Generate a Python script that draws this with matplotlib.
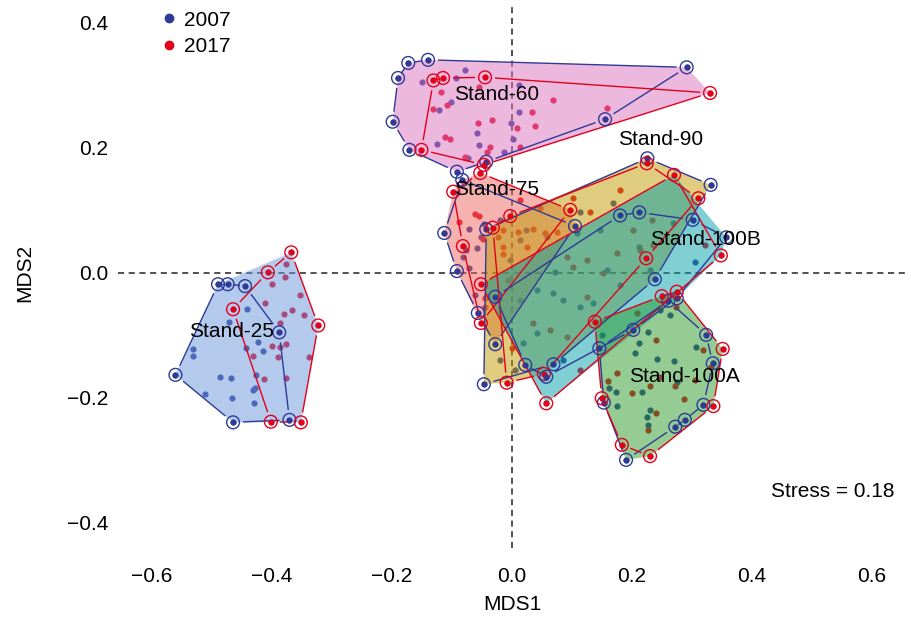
import numpy as np
import matplotlib
matplotlib.use("Agg")
import matplotlib.pyplot as plt
from matplotlib.lines import Line2D

plt.rcParams["font.family"] = ["Liberation Sans", "DejaVu Sans"]

# NMDS site scores (MDS1, MDS2) per stand and survey year
s25_2007 = [(-0.490, -0.018), (-0.474, -0.018), (-0.445, -0.021), (-0.388, -0.095), (-0.371, -0.235),
            (-0.465, -0.239), (-0.561, -0.163), (-0.441, -0.058), (-0.472, -0.078), (-0.532, -0.121),
            (-0.532, -0.133), (-0.443, -0.120), (-0.423, -0.110), (-0.415, -0.125), (-0.487, -0.166),
            (-0.469, -0.168), (-0.426, -0.164), (-0.432, -0.188), (-0.428, -0.184), (-0.467, -0.200),
            (-0.430, -0.208), (-0.512, -0.194)]
s25_2017 = [(-0.368, 0.033), (-0.407, 0.001), (-0.465, -0.058), (-0.323, -0.084), (-0.352, -0.239),
            (-0.402, -0.238), (-0.377, 0.014), (-0.400, -0.018), (-0.378, -0.007), (-0.412, -0.048),
            (-0.380, -0.066), (-0.366, -0.060), (-0.346, -0.067), (-0.353, -0.035), (-0.386, -0.080),
            (-0.400, -0.117), (-0.386, -0.118), (-0.377, -0.114), (-0.390, -0.135), (-0.432, -0.133),
            (-0.338, -0.134), (-0.413, -0.170), (-0.376, -0.168)]

s60_2007 = [(-0.173, 0.336), (-0.140, 0.341), (-0.190, 0.312), (-0.199, 0.242), (-0.171, 0.197),
            (-0.092, 0.162), (-0.043, 0.178), (0.155, 0.246), (0.291, 0.329), (-0.078, 0.324),
            (-0.093, 0.312), (-0.150, 0.306), (-0.101, 0.274), (-0.121, 0.261), (0.011, 0.301),
            (0.011, 0.257), (-0.001, 0.240), (-0.059, 0.224), (0.001, 0.214), (-0.055, 0.204),
            (-0.125, 0.206), (-0.013, 0.193), (-0.073, 0.184)]
s60_2017 = [(-0.131, 0.308), (-0.115, 0.312), (-0.045, 0.313), (0.330, 0.288), (-0.151, 0.197),
            (-0.047, 0.173), (-0.118, 0.290), (-0.131, 0.262), (-0.109, 0.269), (-0.055, 0.297),
            (0.068, 0.276), (0.033, 0.257), (-0.034, 0.244), (-0.056, 0.240), (0.008, 0.232),
            (0.038, 0.235), (0.158, 0.264), (-0.112, 0.217), (-0.103, 0.214), (-0.037, 0.202),
            (-0.041, 0.194), (0.013, 0.202), (-0.078, 0.186)]

s75_2007 = [(-0.083, 0.149), (-0.113, 0.064), (-0.092, 0.003), (-0.057, -0.064), (-0.028, -0.114),
            (0.105, 0.075), (-0.071, 0.070), (-0.046, 0.078), (-0.052, 0.057), (-0.077, 0.037),
            (-0.059, 0.040), (-0.071, 0.008), (-0.081, 0.025), (-0.020, 0.085), (-0.062, -0.035)]
s75_2017 = [(-0.053, 0.160), (0.097, 0.101), (-0.052, -0.080), (-0.082, 0.043),
            (-0.098, 0.130), (-0.088, 0.082), (-0.062, 0.094), (-0.055, 0.091), (-0.049, 0.054),
            (-0.015, 0.069), (-0.045, -0.040), (-0.045, -0.055), (0.013, 0.117), (0.047, 0.104)]

s90_2007 = [(0.2255, 0.1835), (0.331, 0.141), (0.238, -0.010), (0.069, -0.146), (-0.047, -0.178),
            (-0.043, 0.070), (0.023, 0.069), (0.013, 0.053), (-0.003, 0.021), (0.113, 0.098),
            (0.169, 0.1115), (0.147, 0.069), (0.108, 0.0635), (0.058, 0.058), (0.072, 0.002),
            (0.013, -0.043), (0.041, -0.027), (-0.020, -0.139), (0.005, -0.155), (0.212, 0.042)]
s90_2017 = [(0.2245, 0.1755), (0.3105, 0.1195), (0.2235, 0.0235), (0.053, -0.1615), (-0.009, -0.1755),
            (-0.032, 0.0725), (-0.003, 0.091), (0.0105, 0.066), (0.0355, 0.070), (0.055, 0.0635),
            (0.0745, 0.066), (0.102, 0.120), (0.130, 0.098), (-0.023, 0.058), (0.0245, 0.042),
            (-0.0145, 0.042), (-0.015, 0.030), (0.091, 0.026), (0.1245, 0.021), (0.102, 0.010),
            (0.152, 0.000), (0.0355, -0.0805), (0.000, -0.120), (0.180, 0.133), (0.213, 0.037)]

s100b_2007 = [(-0.028, -0.038), (0.022, -0.147), (0.057, -0.166), (0.1495, -0.099), (0.202, -0.091),
              (0.2745, -0.0405), (0.357, 0.057), (0.301, 0.085), (0.212, 0.097), (0.180, 0.092),
              (0.158, 0.005), (0.180, -0.019), (0.230, 0.005), (0.269, 0.0795), (0.069, -0.0325),
              (0.041, -0.0965), (0.019, -0.1125), (0.113, -0.054), (0.1355, -0.0485), (0.0855, -0.043),
              (0.305, 0.0175), (0.085, -0.140)]
s100b_2017 = [(-0.052, -0.018), (-0.006, -0.011), (0.270, 0.157), (0.348, 0.028), (0.057, -0.2085),
              (0.233, 0.085), (0.202, 0.069), (0.2355, 0.045), (0.1745, 0.0315), (0.1245, -0.038),
              (0.063, -0.091), (0.091, -0.102), (0.322, 0.045), (0.113, -0.155)]

s100a_2007 = [(0.2605, -0.0445), (0.3235, -0.099), (0.3345, -0.1445), (0.319, -0.211), (0.288, -0.235),
              (0.272, -0.246), (0.190, -0.299), (0.153, -0.2075), (0.1455, -0.1205), (0.227, -0.094),
              (0.212, -0.1115), (0.205, -0.1275), (0.242, -0.138), (0.2705, -0.141), (0.3067, -0.118),
              (0.173, -0.190), (0.216, -0.190), (0.1745, -0.213), (0.230, -0.219), (0.2245, -0.230),
              (0.227, -0.243), (0.2745, -0.174), (0.162, -0.1845), (0.263, -0.067), (0.247, -0.059)]
s100a_2017 = [(0.138, -0.078), (0.2495, -0.037), (0.2745, -0.030), (0.273, -0.055), (0.351, -0.1215),
              (0.3355, -0.213), (0.230, -0.293), (0.183, -0.275), (0.1495, -0.2005), (0.240, -0.108),
              (0.319, -0.124), (0.1745, -0.1605), (0.1605, -0.173), (0.1995, -0.1925), (0.230, -0.181),
              (0.247, -0.167), (0.272, -0.181), (0.305, -0.171), (0.2865, -0.202), (0.240, -0.2235),
              (0.226, -0.251), (0.209, -0.0635), (0.331, -0.151)]

stands = ["Stand-25", "Stand-60", "Stand-75", "Stand-90", "Stand-100B", "Stand-100A"]
scores_2007 = [s25_2007, s60_2007, s75_2007, s90_2007, s100b_2007, s100a_2007]
scores_2017 = [s25_2017, s60_2017, s75_2017, s90_2017, s100b_2017, s100a_2017]
stand_fill = ["#6b97dc", "#dc73bf", "#ef6660", "#c29a00", "#00a0a8", "#2a9a2a"]
label_pos = [(-0.468, -0.094), (-0.025, 0.285), (-0.025, 0.134), (0.248, 0.213), (0.323, 0.053), (0.288, -0.166)]

years = ["2007", "2017"]
year_col = ["#2e3a97", "#e3001b"]
stress = 0.18

xticks = [-0.6, -0.4, -0.2, 0.0, 0.2, 0.4, 0.6]
yticks = [-0.4, -0.2, 0.0, 0.2, 0.4]


def convex_hull(pts):
    pts = sorted(set(map(tuple, pts)))
    def cross(o, a, b):
        return (a[0] - o[0]) * (b[1] - o[1]) - (a[1] - o[1]) * (b[0] - o[0])
    lower, upper = [], []
    for p in pts:
        while len(lower) >= 2 and cross(lower[-2], lower[-1], p) <= 0:
            lower.pop()
        lower.append(p)
    for p in reversed(pts):
        while len(upper) >= 2 and cross(upper[-2], upper[-1], p) <= 0:
            upper.pop()
        upper.append(p)
    return np.array(lower[:-1] + upper[:-1])


fig = plt.figure(figsize=(9.12, 6.29), dpi=100)
ax = fig.add_axes([0.1292, 0.1288, 0.8645, 0.8665])
ax.set_xlim(-0.657, 0.657)
ax.set_ylim(-0.44, 0.432)
for sp in ax.spines.values():
    sp.set_visible(False)

ax.set_xticks(xticks)
ax.set_xticklabels([f"{v:.1f}".replace("-", "\u2212") for v in xticks])
ax.set_yticks(yticks)
ax.set_yticklabels([f"{v:.1f}".replace("-", "\u2212") for v in yticks])
ax.tick_params(axis="x", length=0, labelsize=15, pad=14)
ax.tick_params(axis="y", length=0, labelsize=15, pad=7)

ax.axhline(0, color="#222222", ls=(0, (4, 3)), lw=1.1, zorder=0.5)
ax.axvline(0, color="#222222", ls=(0, (4, 3)), lw=1.1, zorder=0.5)

to_px = ax.transData.transform
to_data = ax.transData.inverted().transform


def gapped_hull(h, color):
    n = len(h)
    for i in range(n):
        a, b = to_px(h[i]), to_px(h[(i + 1) % n])
        d = b - a
        L = np.hypot(*d)
        g = min(10.0, 0.3 * L)
        u = d / L
        seg = to_data(np.array([a + u * g, b - u * g]))
        ax.plot(seg[:, 0], seg[:, 1], color=color, lw=1.0, zorder=3, solid_capstyle="butt")


# plots first, stand hulls laid over them
for p07, p17 in zip(scores_2007, scores_2017):
    for pts, col in ((np.array(p07), year_col[0]), (np.array(p17), year_col[1])):
        ax.scatter(pts[:, 0], pts[:, 1], s=20, color=col, lw=0, zorder=1)

for p07, p17, fc in zip(scores_2007, scores_2017, stand_fill):
    h = convex_hull(p07 + p17)
    ax.fill(h[:, 0], h[:, 1], color=fc, alpha=0.5, lw=0, zorder=2)

for p07, p17 in zip(scores_2007, scores_2017):
    for pts, col in ((p07, year_col[0]), (p17, year_col[1])):
        h = convex_hull(pts)
        gapped_hull(h, col)
        ax.scatter(h[:, 0], h[:, 1], s=85, facecolors="none", edgecolors=col, linewidths=1.0, zorder=4)
        ax.scatter(h[:, 0], h[:, 1], s=18, color=col, lw=0, zorder=4)

for name, (lx, ly) in zip(stands, label_pos):
    ax.text(lx, ly, name, ha="center", va="center", fontsize=15, zorder=5)

ax.text(0.638, -0.349, f"Stress = {stress:.2f}", ha="right", va="center", fontsize=15)

handles = [Line2D([], [], marker="o", ls="", color=c, ms=6) for c in year_col]
fig.legend(handles, years, loc="upper left", bbox_to_anchor=(160.7 / 912, 1 - 10.5 / 629),
           frameon=False, fontsize=15, handlelength=0.8, handletextpad=0.32,
           labelspacing=0.38, borderpad=0, borderaxespad=0)

fig.text(512 / 912, 1 - 605 / 629, "MDS1", ha="center", va="center", fontsize=15)
fig.text(25 / 912, 1 - 273 / 629, "MDS2", ha="center", va="center", rotation=90, fontsize=15)

fig.savefig("out.png", dpi=100)
